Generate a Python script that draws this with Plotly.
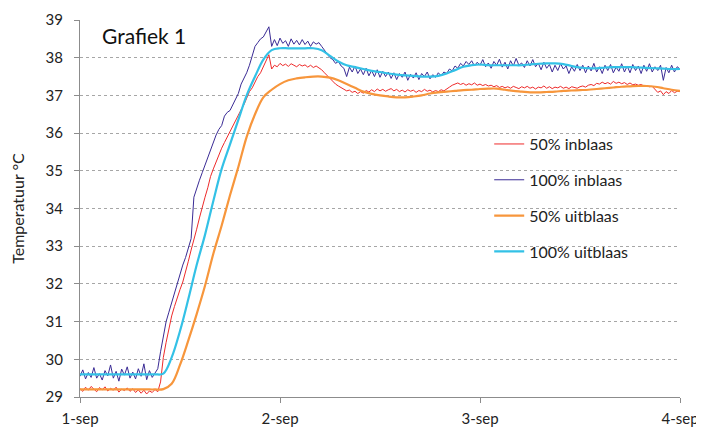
import pandas as pd
import plotly.graph_objects as go

# ---- data ----
start = "2023-09-01 00:00"
# noisy probe series, every 20 minutes from 1-sep 00:00 to 4-sep 00:00
inblaas_50 = [
    29.22, 29.15, 29.26, 29.18, 29.28, 29.20, 29.14, 29.25, 29.19, 29.27,
    29.16, 29.23, 29.18, 29.26, 29.13, 29.21, 29.17, 29.24, 29.15, 29.22,
    29.12, 29.19, 29.10, 29.18, 29.08, 29.16, 29.12, 29.20, 29.14, 29.40,
    30.05, 30.45, 30.85, 31.15, 31.40, 31.65, 31.85, 32.05, 32.30, 32.60,
    32.90, 33.15, 33.45, 33.75, 34.05, 34.30, 34.55, 34.85, 35.05, 35.25,
    35.40, 35.60, 35.75, 35.90, 36.05, 36.20, 36.35, 36.50, 36.62, 36.75,
    36.95, 37.10, 37.20, 37.35, 37.50, 37.60, 37.75, 37.92, 38.08, 37.70,
    37.80, 37.76, 37.85, 37.79, 37.83, 37.77, 37.84, 37.80, 37.76, 37.82,
    37.78, 37.81, 37.75, 37.80, 37.74, 37.78, 37.73, 37.68, 37.60, 37.52,
    37.45, 37.38, 37.30, 37.25, 37.20, 37.16, 37.12, 37.14, 37.08, 37.11,
    37.05, 37.10, 37.06, 37.13, 37.09, 37.15, 37.10, 37.17, 37.12, 37.16,
    37.11, 37.15, 37.18, 37.12, 37.16, 37.10, 37.14, 37.09, 37.15, 37.11,
    37.14, 37.08, 37.13, 37.10, 37.16, 37.11, 37.14, 37.09, 37.13, 37.10,
    37.15, 37.12, 37.18, 37.22, 37.27, 37.30, 37.33, 37.29, 37.32, 37.27,
    37.31, 37.28, 37.33, 37.27, 37.30, 37.26, 37.29, 37.25, 37.27, 37.23,
    37.26, 37.21, 37.24, 37.20, 37.23, 37.19, 37.24, 37.21, 37.18, 37.23,
    37.20, 37.24, 37.19, 37.22, 37.17, 37.22, 37.20, 37.25, 37.19, 37.23,
    37.18, 37.22, 37.20, 37.24, 37.19, 37.22, 37.18, 37.23, 37.21, 37.19,
    37.23, 37.25, 37.22, 37.27, 37.29, 37.26, 37.32, 37.30, 37.35, 37.31,
    37.34, 37.30, 37.37, 37.32, 37.35, 37.31, 37.34, 37.29, 37.33, 37.28,
    37.30, 37.27, 37.29, 37.25, 37.26, 37.23, 37.24, 37.15, 37.08, 37.12,
    37.02, 37.10, 37.05, 37.13, 37.07, 37.11, 37.10,
]
inblaas_100 = [
    29.55, 29.72, 29.48, 29.65, 29.52, 29.78, 29.50, 29.62, 29.45, 29.70,
    29.56, 29.85, 29.50, 29.68, 29.42, 29.74, 29.58, 29.80, 29.50, 29.66,
    29.48, 29.75, 29.55, 29.88, 29.46, 29.70, 29.52, 29.64, 29.75, 30.20,
    30.65, 31.00, 31.25, 31.50, 31.80, 32.05, 32.30, 32.50, 32.70, 32.95,
    33.20, 34.30, 34.55, 34.75, 34.95, 35.15, 35.35, 35.55, 35.80, 35.95,
    36.10, 36.20, 36.45, 36.55, 36.60, 36.75, 36.90, 37.05, 37.30, 37.45,
    37.60, 37.80, 38.05, 38.30, 38.40, 38.50, 38.55, 38.70, 38.82, 38.30,
    38.48, 38.32, 38.52, 38.38, 38.45, 38.30, 38.50, 38.36, 38.46, 38.34,
    38.48, 38.35, 38.44, 38.30, 38.42, 38.36, 38.40, 38.30, 38.20, 38.10,
    38.00, 37.95, 37.85, 37.90, 37.78, 37.72, 37.50, 37.75, 37.62, 37.78,
    37.58, 37.70, 37.55, 37.72, 37.52, 37.66, 37.50, 37.68, 37.48, 37.64,
    37.50, 37.62, 37.45, 37.60, 37.42, 37.58, 37.48, 37.62, 37.40, 37.56,
    37.46, 37.60, 37.42, 37.58, 37.50, 37.62, 37.44, 37.55, 37.48, 37.60,
    37.52, 37.62, 37.58, 37.70, 37.65, 37.78, 37.72, 37.85, 37.78, 37.90,
    37.82, 37.92, 37.78, 37.88, 37.80, 37.95, 37.76, 37.86, 37.72, 37.90,
    37.80, 37.96, 37.75, 37.88, 37.70, 37.92, 37.78, 37.98, 37.80, 37.86,
    37.74, 37.92, 37.78, 37.95, 37.76, 37.85, 37.68, 37.88, 37.72, 37.82,
    37.62, 37.80, 37.66, 37.84, 37.70, 37.78, 37.58, 37.76, 37.64, 37.82,
    37.66, 37.80, 37.60, 37.78, 37.65, 37.85, 37.62, 37.76, 37.58, 37.80,
    37.66, 37.82, 37.60, 37.75, 37.64, 37.84, 37.62, 37.78, 37.60, 37.82,
    37.66, 37.78, 37.58, 37.80, 37.64, 37.84, 37.62, 37.76, 37.66, 37.80,
    37.40, 37.74, 37.60, 37.80, 37.62, 37.76, 37.70,
]
# smooth outlet series, every hour
uitblaas_50 = [
    29.20, 29.20, 29.20, 29.20, 29.20, 29.20, 29.20, 29.20, 29.20, 29.20,
    29.21, 29.35, 29.85, 30.50, 31.20, 31.95, 32.80, 33.55, 34.35, 35.10,
    35.90, 36.50, 36.95, 37.15, 37.30, 37.40, 37.45, 37.48, 37.50, 37.50,
    37.47, 37.40, 37.30, 37.20, 37.10, 37.04, 37.00, 36.97, 36.95, 36.95,
    36.97, 37.00, 37.05, 37.08, 37.10, 37.12, 37.14, 37.15, 37.17, 37.18,
    37.18, 37.15, 37.12, 37.10, 37.08, 37.08, 37.09, 37.10, 37.12, 37.13,
    37.14, 37.15, 37.17, 37.19, 37.21, 37.23, 37.24, 37.25, 37.25, 37.23,
    37.19, 37.15, 37.12,
]
uitblaas_100 = [
    29.60, 29.60, 29.60, 29.60, 29.60, 29.60, 29.60, 29.60, 29.60, 29.60,
    29.62, 30.05, 30.75, 31.60, 32.50, 33.30, 34.20, 35.05, 35.70, 36.35,
    37.00, 37.50, 37.95, 38.20, 38.25, 38.25, 38.25, 38.25, 38.25, 38.20,
    38.05, 37.90, 37.80, 37.75, 37.70, 37.65, 37.62, 37.58, 37.55, 37.53,
    37.52, 37.50, 37.50, 37.52, 37.58, 37.67, 37.76, 37.80, 37.82, 37.80,
    37.80, 37.80, 37.80, 37.80, 37.82, 37.84, 37.85, 37.85, 37.83, 37.78,
    37.74, 37.72, 37.72, 37.74, 37.75, 37.75, 37.75, 37.74, 37.73, 37.72,
    37.71, 37.70, 37.70,
]
series_names = ["50% inblaas", "100% inblaas", "50% uitblaas", "100% uitblaas"]
tick_dates = ["2023-09-01", "2023-09-02", "2023-09-03", "2023-09-04"]
tick_labels = ["1-sep", "2-sep", "3-sep", "4-sep"]
y_ticks = [29, 30, 31, 32, 33, 34, 35, 36, 37, 38, 39]

t_fine = pd.date_range(start, periods=len(inblaas_50), freq="20min")
t_hour = pd.date_range(start, periods=len(uitblaas_50), freq="60min")

FONT = "Lato, 'Liberation Sans', sans-serif"
fig = go.Figure()
fig.add_trace(go.Scatter(x=t_fine, y=inblaas_50, name=series_names[0], mode="lines",
                         line=dict(color="#EE2A2A", width=1), legendgroup="a"))
fig.add_trace(go.Scatter(x=t_fine, y=inblaas_100, name=series_names[1], mode="lines",
                         line=dict(color="#3A2B95", width=1), legendgroup="b"))
fig.add_trace(go.Scatter(x=t_hour, y=uitblaas_50, name=series_names[2], mode="lines",
                         line=dict(color="#F7963C", width=2.2, shape="spline"), legendgroup="c"))
fig.add_trace(go.Scatter(x=t_hour, y=uitblaas_100, name=series_names[3], mode="lines",
                         line=dict(color="#33C1E6", width=2.2, shape="spline"), legendgroup="d"))

# the page body adds an 8px offset, so the figure is 696x420
fig.update_layout(
    width=696, height=420,
    margin=dict(l=72, r=24, t=12, b=31),
    paper_bgcolor="white", plot_bgcolor="white",
    font=dict(family=FONT, size=15, color="#222222"),
    showlegend=True,
    legend=dict(x=0.682, y=0.716, xanchor="left", yanchor="top",
                bgcolor="rgba(0,0,0,0)", tracegroupgap=12,
                font=dict(size=16, color="#222222")),
    annotations=[dict(text="Grafiek 1", x=0.033, y=0.958, xref="paper", yref="paper",
                      xanchor="left", yanchor="middle", showarrow=False,
                      font=dict(size=21, color="#111111"))],
)
fig.update_xaxes(
    type="date", range=[tick_dates[0], tick_dates[-1]],
    tickvals=tick_dates, ticktext=tick_labels,
    showgrid=False, zeroline=False, automargin=False,
    showline=True, linecolor="#8C8C8C", linewidth=1,
    ticks="outside", ticklen=5, tickcolor="#8C8C8C",
    ticklabelstandoff=3, tickfont=dict(size=15),
)
fig.update_yaxes(
    range=[29, 39], tickvals=y_ticks, automargin=False,
    showgrid=True, gridcolor="#A6A6A6", griddash="dot", gridwidth=1,
    zeroline=False,
    showline=True, linecolor="#8C8C8C", linewidth=1,
    ticks="outside", ticklen=5, tickcolor="#8C8C8C",
    ticklabelstandoff=8, tickfont=dict(size=15),
    title=dict(text="Temperatuur °C", standoff=18, font=dict(size=16)),
)
fig.write_html("out.html")
